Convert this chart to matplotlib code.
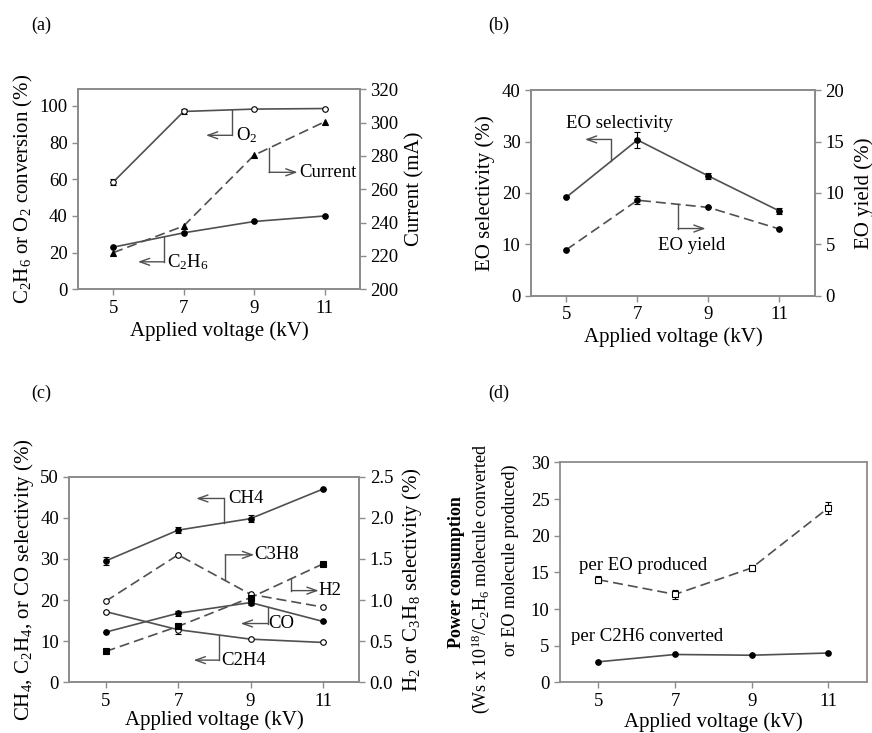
import numpy as np
import matplotlib.pyplot as plt

plt.rcParams['font.family'] = ['Liberation Serif', 'DejaVu Serif']
plt.rcParams['mathtext.default'] = 'regular'

voltage = [5, 7, 9, 11]

# (a) conversion and current
o2_conv = [58.5, 97.0, 98.3, 98.6]
o2_err = [1.5, 1.5, 0, 0]
c2h6_conv = [23.0, 30.8, 37.0, 40.0]
current = [222, 238, 280.5, 300.5]

# (b) EO selectivity / yield
eo_sel = [19.2, 30.3, 23.3, 16.5]
eo_sel_err = [0, 1.5, 0.6, 0.6]
eo_yield = [4.5, 9.3, 8.6, 6.5]
eo_yield_err = [0, 0.4, 0, 0]

# (c) by-product selectivity
ch4_sel = [29.5, 37.0, 39.8, 47.0]
ch4_err = [1.0, 0.8, 0.8, 0]
c2h4_sel = [17.2, 12.8, 10.5, 9.7]
c2h4_err = [0, 1.0, 0, 0]
co_sel = [12.2, 16.8, 19.4, 14.8]
co_err = [0, 0.6, 0.6, 0]
c3h8_sel = [0.985, 1.55, 1.07, 0.915]
h2_sel = [0.375, 0.68, 1.03, 1.44]

# (d) power consumption
pc_eo = [14.0, 12.0, 15.6, 23.8]
pc_eo_err = [0.5, 0.6, 0.4, 0.8]
pc_c2h6 = [2.8, 3.8, 3.7, 4.0]

FRAME = '#8c8c8c'
LINE = '#505050'
DASH = (0, (6, 3))
TICK_FS = 13.5
LAB_FS = 15
ANN_FS = 13.5


def style(ax):
    for s in ax.spines.values():
        s.set_color(FRAME)
        s.set_linewidth(1.3)
    ax.tick_params(direction='out', length=4, width=1, color=FRAME, labelsize=TICK_FS)
    ax.set_xlim(4, 12)
    ax.set_xticks(voltage)


def series(ax, y, err=None, ls='-', marker='o', filled=True):
    ax.errorbar(voltage, y, yerr=err, color=LINE, ls=ls, lw=1.2, marker=marker,
                ms=4, mfc='black' if filled else 'white', mec='black', mew=0.8,
                ecolor='black', elinewidth=0.8, capsize=2.5)


def bracket(ax, x, ys, y1, x2, text, tx, ty):
    y0 = np.interp(x, voltage, ys)
    ax.plot([x, x], [y0, y1], color=LINE, lw=1)
    ax.annotate('', xy=(x2, y1), xytext=(x, y1),
                arrowprops=dict(arrowstyle='->,head_length=0.7,head_width=0.25',
                                color=LINE, lw=1, shrinkA=0, shrinkB=0))
    ax.text(tx, ty, text, fontsize=ANN_FS, va='center', ha='left')


fig = plt.figure(figsize=(8.72, 7.33), dpi=100)

# ---- (a)
ax = fig.add_axes([0.0894, 0.6053, 0.3234, 0.2729])
ax2 = ax.twinx()
style(ax)
style(ax2)
ax.tick_params(right=False)
series(ax, o2_conv, o2_err, marker='o', filled=False)
series(ax, c2h6_conv, marker='o')
series(ax2, current, ls=DASH, marker='^')
ax.set_ylim(0, 109.1)
ax.set_yticks(range(0, 101, 20))
ax2.set_ylim(200, 320)
ax2.set_yticks(range(200, 321, 20))
ax.set_ylabel('C$_2$H$_6$ or O$_2$ conversion (%)', fontsize=LAB_FS, labelpad=3)
ax2.set_ylabel('Current (mA)', fontsize=LAB_FS, labelpad=5)
ax.set_xlabel('Applied voltage (kV)', fontsize=LAB_FS, labelpad=3)
bracket(ax, 8.37, o2_conv, 84, 7.63, 'O$_2$', 8.47, 84)
bracket(ax2, 9.42, current, 270.2, 10.23, 'Current', 10.28, 270.2)
bracket(ax, 6.45, c2h6_conv, 15, 5.7, 'C$_2$H$_6$', 6.52, 15)
fig.text(0.036, 0.966, '(a)', fontsize=13, va='center')

# ---- (b)
ax = fig.add_axes([0.6089, 0.5962, 0.3257, 0.281])
ax2 = ax.twinx()
style(ax)
style(ax2)
ax.tick_params(right=False)
series(ax, eo_sel, eo_sel_err)
series(ax2, eo_yield, eo_yield_err, ls=DASH)
ax.set_ylim(0, 40)
ax.set_yticks(range(0, 41, 10))
ax2.set_ylim(0, 20)
ax2.set_yticks(range(0, 21, 5))
ax.set_ylabel('EO selectivity (%)', fontsize=LAB_FS, labelpad=5)
ax2.set_ylabel('EO yield (%)', fontsize=LAB_FS, labelpad=7)
ax.set_xlabel('Applied voltage (kV)', fontsize=LAB_FS, labelpad=3)
bracket(ax, 6.25, eo_sel, 30.4, 5.52, '', 0, 0)
ax.text(5.0, 33.5, 'EO selectivity', fontsize=ANN_FS, va='center', ha='left')
bracket(ax2, 8.14, eo_yield, 6.55, 8.92, '', 0, 0)
ax.text(7.57, 9.9, 'EO yield', fontsize=ANN_FS, va='center', ha='left')
fig.text(0.56, 0.966, '(b)', fontsize=13, va='center')

# ---- (c)
ax = fig.add_axes([0.0795, 0.0691, 0.3325, 0.2806])
ax2 = ax.twinx()
style(ax)
style(ax2)
ax.tick_params(right=False)
series(ax, ch4_sel, ch4_err)
series(ax, c2h4_sel, c2h4_err, filled=False)
series(ax, co_sel, co_err)
series(ax2, c3h8_sel, ls=DASH, filled=False)
series(ax2, h2_sel, ls=DASH, marker='s')
ax.set_ylim(0, 50)
ax.set_yticks(range(0, 51, 10))
ax2.set_ylim(0, 2.5)
ax2.set_yticks(np.arange(0, 2.51, 0.5))
ax2.set_yticklabels(['0.0', '0.5', '1.0', '1.5', '2.0', '2.5'])
ax.set_ylabel('CH$_4$, C$_2$H$_4$, or CO selectivity (%)', fontsize=LAB_FS, labelpad=3)
ax2.set_ylabel('H$_2$ or C$_3$H$_8$ selectivity (%)', fontsize=LAB_FS, labelpad=5)
ax.set_xlabel('Applied voltage (kV)', fontsize=LAB_FS, labelpad=0)
bracket(ax, 8.27, ch4_sel, 44.7, 7.5, 'CH4', 8.38, 44.7)
bracket(ax2, 8.3, c3h8_sel, 1.55, 9.1, 'C3H8', 9.1, 1.55)
bracket(ax2, 10.13, h2_sel, 1.115, 10.88, 'H2', 10.88, 1.115)
bracket(ax, 9.48, co_sel, 14.3, 8.73, 'CO', 9.5, 14.3)
bracket(ax, 8.13, c2h4_sel, 5.4, 7.43, 'C2H4', 8.18, 5.4)
fig.text(0.036, 0.464, '(c)', fontsize=13, va='center')

# ---- (d)
ax = fig.add_axes([0.6422, 0.0691, 0.3517, 0.3001])
style(ax)
series(ax, pc_eo, pc_eo_err, ls=DASH, marker='s', filled=False)
series(ax, pc_c2h6)
ax.set_ylim(0, 30)
ax.set_yticks(range(0, 31, 5))
ax.set_xlabel('Applied voltage (kV)', fontsize=LAB_FS, labelpad=2)
ax.text(4.5, 16.0, 'per EO produced', fontsize=ANN_FS, va='center', ha='left')
ax.text(4.3, 6.2, 'per C2H6 converted', fontsize=ANN_FS, va='center', ha='left')
fig.text(0.524, 0.22, 'Power consumption', fontsize=13, fontweight='bold',
         rotation=90, ha='center', va='center')
fig.text(0.551, 0.21, '(Ws x 10$^{18}$/C$_2$H$_6$ molecule converted', fontsize=13,
         rotation=90, ha='center', va='center')
fig.text(0.585, 0.236, 'or EO molecule produced)', fontsize=13,
         rotation=90, ha='center', va='center')
fig.text(0.56, 0.464, '(d)', fontsize=13, va='center')

fig.savefig('out.png', dpi=100)
